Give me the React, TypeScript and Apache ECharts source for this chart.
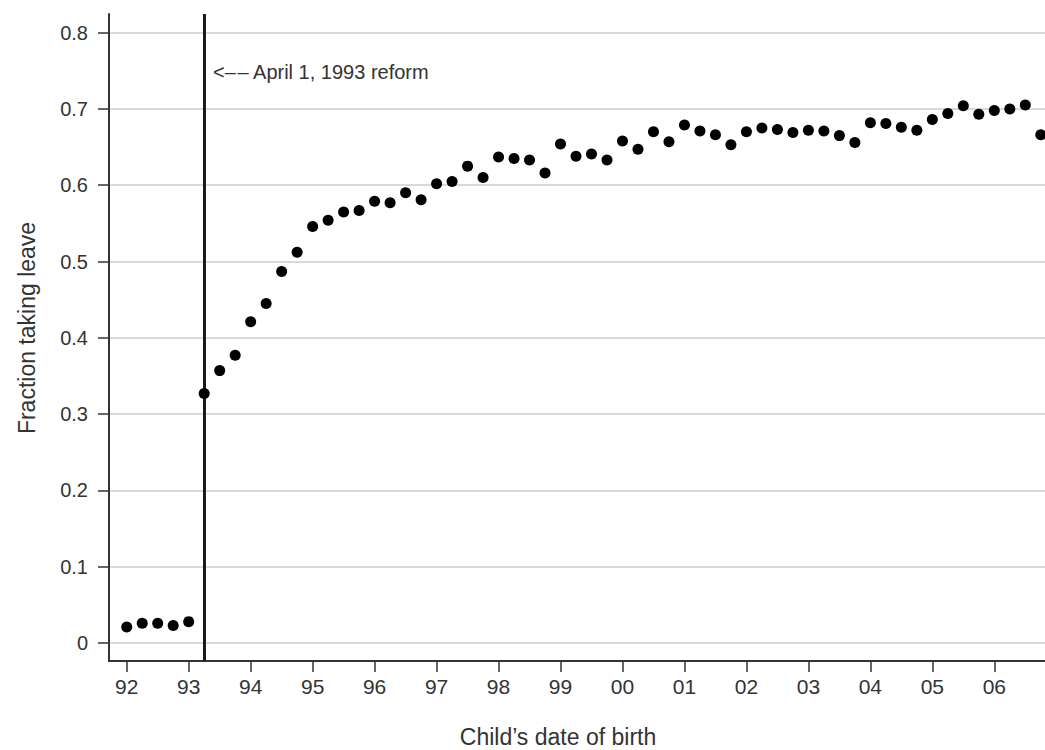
import React, { useEffect, useRef } from "react";
import * as echarts from "echarts";

const birthDates = [
  92, 92.25, 92.5, 92.75, 93, 93.25, 93.5, 93.75,
  94, 94.25, 94.5, 94.75, 95, 95.25, 95.5, 95.75,
  96, 96.25, 96.5, 96.75, 97, 97.25, 97.5, 97.75,
  98, 98.25, 98.5, 98.75, 99, 99.25, 99.5, 99.75,
  100, 100.25, 100.5, 100.75, 101, 101.25, 101.5, 101.75,
  102, 102.25, 102.5, 102.75, 103, 103.25, 103.5, 103.75,
  104, 104.25, 104.5, 104.75, 105, 105.25, 105.5, 105.75,
  106, 106.25, 106.5, 106.75,
];

const fractionTakingLeave = [
  0.021, 0.026, 0.026, 0.023, 0.028, 0.327, 0.357, 0.377,
  0.421, 0.445, 0.487, 0.512, 0.546, 0.554, 0.565, 0.567,
  0.579, 0.577, 0.590, 0.581, 0.602, 0.605, 0.625, 0.610,
  0.637, 0.635, 0.633, 0.616, 0.654, 0.638, 0.641, 0.633,
  0.658, 0.647, 0.670, 0.657, 0.679, 0.671, 0.666, 0.653,
  0.670, 0.675, 0.673, 0.669, 0.672, 0.671, 0.665, 0.656,
  0.682, 0.681, 0.676, 0.672, 0.686, 0.694, 0.704, 0.693,
  0.698, 0.700, 0.705, 0.666,
];

const xTickValues = [92, 93, 94, 95, 96, 97, 98, 99, 100, 101, 102, 103, 104, 105, 106];
const yTickValues = [0, 0.1, 0.2, 0.3, 0.4, 0.5, 0.6, 0.7, 0.8];
const reformDate = 93.25;
const reformLabel = "<–\u200A– April 1, 1993 reform";
const xTitle = "Child’s date of birth";
const yTitle = "Fraction taking leave";

const FONT = "'Liberation Sans', Arial, Helvetica, sans-serif";
const TEXT = "#333333";

export default function App() {
  const ref = useRef<HTMLDivElement>(null);

  useEffect(() => {
    if (!ref.current) return;
    const chart = echarts.init(ref.current, null, { renderer: "svg" });
    const points = birthDates.map((d, i) => [d, fractionTakingLeave[i]]);

    chart.setOption({
      animation: false,
      backgroundColor: "#ffffff",
      textStyle: { fontFamily: FONT },
      grid: { left: 109, right: 0, top: 14, bottom: 89, containLabel: false },
      xAxis: {
        type: "value",
        min: 91.714,
        max: 106.818,
        axisLine: { show: true, onZero: false, lineStyle: { color: "#333", width: 2 } },
        axisTick: {
          show: true,
          customValues: xTickValues,
          length: 11,
          lineStyle: { color: "#333", width: 1.5 },
        },
        axisLabel: {
          customValues: xTickValues,
          margin: 15,
          fontSize: 21,
          color: TEXT,
          fontFamily: FONT,
          formatter: (v: number) => String(Math.round(v) % 100).padStart(2, "0"),
        },
        splitLine: { show: false },
      },
      yAxis: {
        type: "value",
        min: -0.0236,
        max: 0.8244,
        axisLine: { show: true, onZero: false, lineStyle: { color: "#333", width: 2 } },
        axisTick: {
          show: true,
          customValues: yTickValues,
          length: 11,
          lineStyle: { color: "#333", width: 1.5 },
        },
        axisLabel: {
          customValues: yTickValues,
          margin: 21,
          fontSize: 20,
          color: TEXT,
          fontFamily: FONT,
          formatter: (v: number) => (Math.abs(v) < 1e-9 ? "0" : String(Math.round(v * 10) / 10)),
        },
        splitLine: { show: true, lineStyle: { color: "#cccccc", width: 1.5 } },
      },
      series: [
        {
          type: "scatter",
          data: points,
          symbol: "circle",
          symbolSize: 11,
          itemStyle: { color: "#000000", opacity: 1 },
          clip: false,
          z: 3,
          markLine: {
            silent: true,
            symbol: ["none", "none"],
            label: { show: false },
            lineStyle: { color: "#1a1a1a", width: 3, type: "solid", opacity: 1 },
            data: [{ xAxis: reformDate }],
            z: 2,
          },
        },
      ],
      graphic: [
        {
          type: "text",
          left: 213,
          top: 62,
          style: { text: reformLabel, fontSize: 20, fill: TEXT, fontFamily: FONT },
        },
        {
          type: "text",
          x: 27,
          y: 328,
          rotation: Math.PI / 2,
          style: {
            text: yTitle,
            fontSize: 23,
            fill: TEXT,
            fontFamily: FONT,
            align: "center",
            verticalAlign: "middle",
          },
        },
        {
          type: "text",
          x: 558,
          y: 737,
          style: {
            text: xTitle,
            fontSize: 23,
            fill: TEXT,
            fontFamily: FONT,
            align: "center",
            verticalAlign: "middle",
          },
        },
      ],
    });

    return () => chart.dispose();
  }, []);

  return (
    <div
      ref={ref}
      style={{ position: "absolute", left: 0, top: 0, width: 1045, height: 750 }}
    />
  );
}
